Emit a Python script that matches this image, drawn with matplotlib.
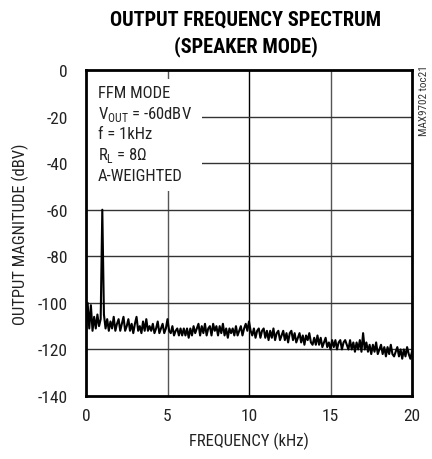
import numpy as np
import matplotlib
matplotlib.use("Agg")
import matplotlib.pyplot as plt
from matplotlib import font_manager

# ---- data ----
freq_khz = np.round(np.arange(0, 201) * 0.1, 1)
magnitude_dbv = [
    -113, -100, -111, -101, -112, -106, -111, -105, -110, -107,
    -60, -105, -111, -107, -112, -108, -111, -106, -112, -109,
    -107, -112, -109, -106, -112, -110, -107, -112, -109, -113,
    -109, -106, -112, -110, -113, -108, -112, -107, -112, -110,
    -112, -109, -113, -111, -108, -113, -111, -109, -113, -111,
    -107, -112, -113, -110, -114, -112, -111, -114, -111, -114,
    -111, -114, -111, -115, -111, -114, -110, -113, -111, -109,
    -114, -110, -113, -109, -114, -111, -110, -114, -109, -112,
    -110, -114, -110, -113, -109, -114, -111, -115, -111, -113,
    -111, -114, -110, -114, -112, -110, -114, -111, -109, -112,
    -108, -112, -114, -111, -115, -112, -111, -115, -112, -111,
    -115, -112, -116, -112, -115, -111, -116, -113, -112, -116,
    -114, -112, -116, -113, -117, -113, -112, -116, -113, -117,
    -115, -113, -117, -114, -118, -114, -116, -113, -117, -118,
    -115, -118, -114, -118, -115, -119, -117, -115, -119, -117,
    -120, -116, -119, -116, -120, -117, -116, -120, -117, -116,
    -118, -120, -116, -120, -117, -121, -117, -120, -116, -121,
    -113, -120, -117, -121, -118, -122, -118, -121, -117, -122,
    -120, -118, -122, -119, -123, -119, -122, -118, -122, -123,
    -121, -119, -123, -120, -124, -120, -123, -119, -122, -124,
    -121,
]
x_ticks = [0, 5, 10, 15, 20]
y_ticks = [0, -20, -40, -60, -80, -100, -120, -140]
title_lines = ["OUTPUT FREQUENCY SPECTRUM", "(SPEAKER MODE)"]
annotation = ["FFM MODE", r"V$_{\mathregular{OUT}}$ = -60dBV", "f = 1kHz",
              r"R$_{\mathregular{L}}$ = 8$\mathregular{\Omega}$", "A-WEIGHTED"]

# ---- fonts ----
names = {f.name for f in font_manager.fontManager.ttflist}
font = "Liberation Sans"
for cand in ["Roboto Condensed", "Archivo Narrow", "Sofia Sans Condensed",
             "Liberation Sans Narrow"]:
    if cand in names:
        font = cand
        break
plt.rcParams['font.family'] = [font, 'DejaVu Sans']
plt.rcParams['mathtext.fontset'] = 'custom'
plt.rcParams['mathtext.rm'] = font

fig = plt.figure(figsize=(4.32, 4.60), dpi=100)
ax = fig.add_axes([86/432, 1-397/460, 326/432, 326/460])

ax.plot(freq_khz, magnitude_dbv, color='black', lw=1.5, zorder=3)

ax.set_xlim(0, 20)
ax.set_ylim(-140, 0)
ax.set_xticks(x_ticks)
ax.set_yticks(y_ticks)
ax.set_xticklabels([str(t) for t in x_ticks])
ax.set_yticklabels([str(t) for t in y_ticks])
ax.tick_params(length=0, labelsize=12.5, colors='#222222')
ax.tick_params(axis='x', pad=9)
ax.tick_params(axis='y', pad=13)

for xv in x_ticks[1:-1]:
    ax.axvline(xv, color='black' if xv == 10 else '#555555', lw=1.0, zorder=1)
for yv in y_ticks[1:-1]:
    ax.axhline(yv, color='#333333', lw=1.0, zorder=1)

for s in ax.spines.values():
    s.set_linewidth(2.0)
    s.set_zorder(5)

ax.set_xlabel("FREQUENCY (kHz)", fontsize=12, color='#222222', labelpad=6)
ax.set_ylabel("OUTPUT MAGNITUDE (dBV)", fontsize=12, color='#222222', labelpad=6)

# white text box
ax.add_patch(plt.Rectangle((0, -52), 7.1, 48, facecolor='white', edgecolor='none',
                           zorder=2))
for i, line in enumerate(annotation):
    ax.text(0.72, -11.6 - i * 8.9, line, fontsize=12, color='#222222',
            va='baseline', ha='left', zorder=4)

t1 = fig.text(246/432, 1-20/460, title_lines[0], ha='center', va='center',
              fontsize=15, fontweight=900, color='black')
t2 = fig.text(246/432, 1-47/460, title_lines[1], ha='center', va='center',
              fontsize=15, fontweight=900, color='black')
# fit title width to the reference (about 273 px)
fig.canvas.draw()
w = t1.get_window_extent().width
size = 15 * 273 / w
t1.set_fontsize(size)
t2.set_fontsize(size)

fig.text(424/432, 1-101/460, "MAX9702 toc21", rotation=90, ha='center', va='center',
         fontsize=8, color='#333333')

fig.savefig("out.png", dpi=100)
